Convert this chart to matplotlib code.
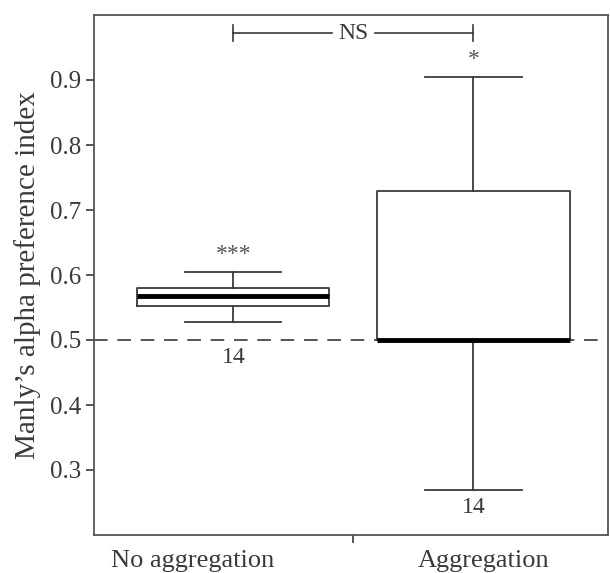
import matplotlib
matplotlib.use("Agg")
import matplotlib.pyplot as plt

# box statistics
groups = ["No aggregation", "Aggregation"]
whislo = [0.527, 0.270]
q1 = [0.552, 0.500]
med = [0.567, 0.500]
q3 = [0.580, 0.730]
whishi = [0.605, 0.905]
n_labels = ["14", "14"]
stars = ["***", "*"]

plt.rcParams["font.family"] = ["Liberation Serif", "DejaVu Serif"]
INK = "#3a3a3a"

fig = plt.figure(figsize=(6.10, 5.73), dpi=100)
ax = fig.add_axes([94 / 610, 38 / 573, 514 / 610, 520 / 573])

stats = [{"whislo": whislo[i], "q1": q1[i], "med": med[i], "q3": q3[i],
          "whishi": whishi[i], "fliers": []} for i in range(2)]
ax.bxp(stats, positions=[1, 2], widths=0.80, showfliers=False,
       boxprops=dict(color=INK, lw=1.3),
       whiskerprops=dict(color=INK, lw=1.3),
       capprops=dict(color=INK, lw=1.3),
       medianprops=dict(color="black", lw=3.5),
       capwidths=0.40)

ax.axhline(0.5, color="#555555", lw=1.4, ls=(0, (7, 5)), zorder=0)

# significance stars and sample sizes
star_y = [0.615, 0.915]
n_y = [0.473, 0.242]
for i in range(2):
    ax.text(i + 1, star_y[i], stars[i], ha="center", va="bottom",
            fontsize=17, color="#555555")
    ax.text(i + 1, n_y[i], n_labels[i], ha="center", va="center",
            fontsize=17, color=INK)

# NS bracket
yb = 0.972
ax.plot([1, 1.41], [yb, yb], color=INK, lw=1.2)
ax.plot([1.59, 2], [yb, yb], color=INK, lw=1.2)
ax.plot([1, 1], [yb - 0.012, yb + 0.012], color=INK, lw=1.2)
ax.plot([2, 2], [yb - 0.012, yb + 0.012], color=INK, lw=1.2)
ax.text(1.5, yb, "NS", ha="center", va="center", fontsize=17, color=INK)

ax.set_xlim(0.42, 2.56)
ax.set_ylim(0.2, 1.0)
ax.set_yticks([0.3, 0.4, 0.5, 0.6, 0.7, 0.8, 0.9])
ax.set_yticklabels(["0.3", "0.4", "0.5", "0.6", "0.7", "0.8", "0.9"])
ax.set_xticks([1.5])
ax.set_xticklabels([""])
ax.tick_params(axis="both", colors=INK, labelsize=18, width=1.2, length=6,
               labelcolor=INK)
label_x = [0.83, 2.04]
for i, g in enumerate(groups):
    ax.text(label_x[i], -0.028, g,
            transform=ax.get_xaxis_transform(), ha="center", va="top",
            fontsize=19, color=INK)
ax.set_ylabel("Manly\u2019s alpha preference index", fontsize=21, color=INK,
              labelpad=6)
for s in ax.spines.values():
    s.set_color("#555555")
    s.set_linewidth(1.3)

fig.savefig("out.png", dpi=100)
